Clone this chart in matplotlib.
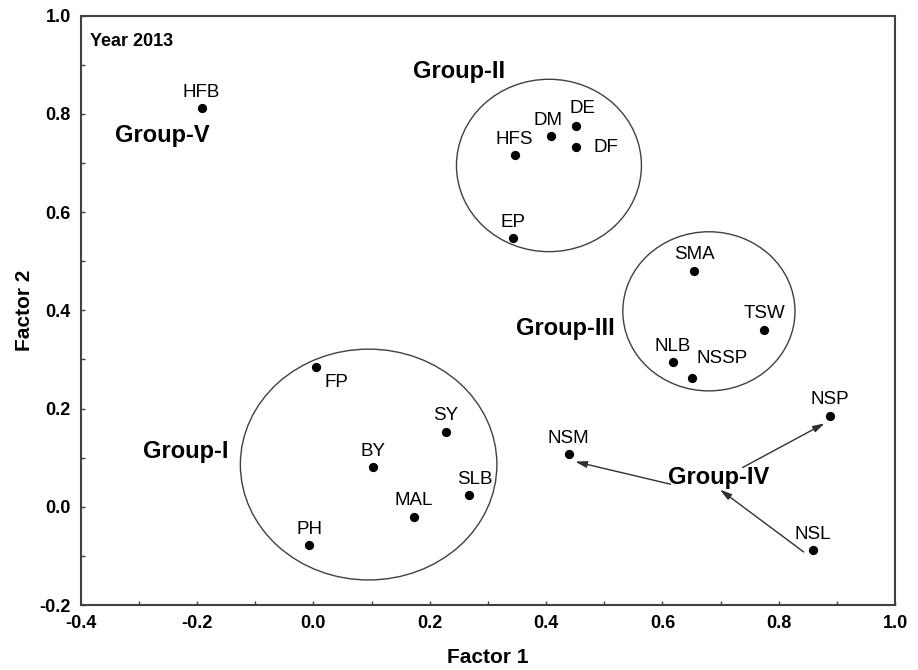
import matplotlib
matplotlib.use("Agg")
import matplotlib.pyplot as plt
from matplotlib.patches import Ellipse
from matplotlib.ticker import MultipleLocator

plt.rcParams['font.family'] = ['Liberation Sans', 'DejaVu Sans']

# ---- data ----
labels = ["HFB", "HFS", "DM", "DE", "DF", "EP",
          "SMA", "TSW", "NLB", "NSSP",
          "NSP", "NSM", "NSL",
          "FP", "SY", "BY", "SLB", "MAL", "PH"]
factor1 = [-0.192, 0.346, 0.408, 0.452, 0.451, 0.343,
           0.655, 0.775, 0.618, 0.651,
           0.888, 0.439, 0.859,
           0.004, 0.228, 0.103, 0.267, 0.173, -0.007]
factor2 = [0.811, 0.716, 0.754, 0.775, 0.732, 0.547,
           0.481, 0.360, 0.294, 0.263,
           0.185, 0.107, -0.088,
           0.284, 0.153, 0.080, 0.024, -0.020, -0.078]

group_names = ["Group-I", "Group-II", "Group-III", "Group-IV", "Group-V"]
group_x = [-0.220, 0.250, 0.434, 0.696, -0.259]
group_y = [0.112, 0.887, 0.363, 0.059, 0.757]

# cluster ellipses (center x, center y, width, height) in data units
ell_cx = [0.095, 0.405, 0.680]
ell_cy = [0.086, 0.695, 0.398]
ell_w = [0.441, 0.318, 0.296]
ell_h = [0.470, 0.351, 0.324]

# Group-IV arrows: start -> end
arr_x0 = [0.614, 0.738, 0.843]
arr_y0 = [0.046, 0.080, -0.092]
arr_x1 = [0.450, 0.879, 0.699]
arr_y1 = [0.092, 0.170, 0.035]

# label offsets in pixels (default straight above)
label_offsets = {"DF": (30, 0), "NSSP": (30, 19), "FP": (21, -15),
                 "DE": (6, 18), "SLB": (6, 16), "DM": (-3, 16)}

# ---- plot ----
fig = plt.figure(figsize=(9.18, 6.70), dpi=100)
ax = fig.add_axes([0.0879, 0.097, 0.975 - 0.0879, 0.9766 - 0.097])

ax.scatter(factor1, factor2, s=32, color='black', zorder=3)

for lab, x, y in zip(labels, factor1, factor2):
    dx, dy = label_offsets.get(lab, (0, 16))
    ax.annotate(lab, (x, y), xytext=(dx, dy), textcoords='offset pixels',
                ha='center', va='center', fontsize=13.5, color='black')

for cx, cy, w, h in zip(ell_cx, ell_cy, ell_w, ell_h):
    ax.add_patch(Ellipse((cx, cy), w, h, fill=False, edgecolor='#404040', lw=1.0))

for name, x, y in zip(group_names, group_x, group_y):
    ax.text(x, y, name, ha='center', va='center', fontsize=17,
            fontweight='bold', color='black')

for x0, y0, x1, y1 in zip(arr_x0, arr_y0, arr_x1, arr_y1):
    ax.annotate("", xy=(x1, y1), xytext=(x0, y0),
                arrowprops=dict(arrowstyle='-|>,head_length=0.7,head_width=0.2',
                                color='#303030', lw=1.0, shrinkA=0, shrinkB=0))

ax.text(0.012, 0.957, "Year 2013", transform=ax.transAxes, ha='left',
        va='center', fontsize=13, fontweight='bold')

ax.set_xlim(-0.4, 1.0)
ax.set_ylim(-0.2, 1.0)
ax.xaxis.set_major_locator(MultipleLocator(0.2))
ax.yaxis.set_major_locator(MultipleLocator(0.2))
ax.xaxis.set_minor_locator(MultipleLocator(0.1))
ax.yaxis.set_minor_locator(MultipleLocator(0.1))
ax.tick_params(which='both', direction='in', length=3, width=1, color='#404040')
ax.tick_params(axis='x', pad=7, labelsize=13)
ax.tick_params(axis='y', pad=7, labelsize=13)
ax.xaxis.set_major_formatter(plt.FuncFormatter(lambda v, p: f"{v:.1f}"))
ax.yaxis.set_major_formatter(plt.FuncFormatter(lambda v, p: f"{v:.1f}"))
for t in ax.get_xticklabels() + ax.get_yticklabels():
    t.set_fontweight('bold')
for s in ax.spines.values():
    s.set_color('#404040')
    s.set_linewidth(1.5)

ax.set_xlabel("Factor 1", fontsize=15, fontweight='bold', labelpad=12)
ax.set_ylabel("Factor 2", fontsize=15, fontweight='bold', labelpad=4)

fig.savefig("out.png", dpi=100)
